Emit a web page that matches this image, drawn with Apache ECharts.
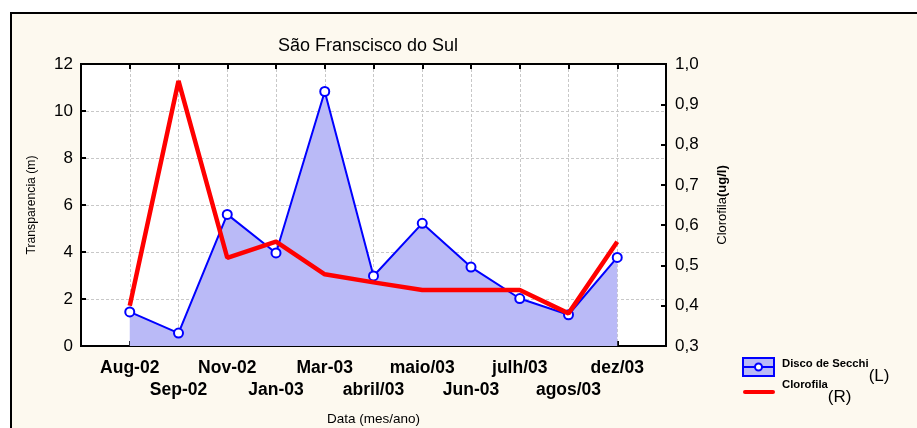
<!DOCTYPE html>
<html lang='pt'>
  <head>
    <meta charset='utf-8'>
    <title>São Franscisco do Sul</title>
    <style>
      html, body { margin: 0; padding: 0; background: #fff; }
      #main { width: 917px; height: 428px; }
    </style>
  </head>
  <body>
    <div id="main"></div>
    <script src="https://cdn.jsdelivr.net/npm/echarts@6/dist/echarts.min.js"></script>
    <script>
      // meses (posicao 1..11 no eixo x)
      var meses = ['Aug-02', 'Sep-02', 'Nov-02', 'Jan-03', 'Mar-03', 'abril/03',
                   'maio/03', 'Jun-03', 'julh/03', 'agos/03', 'dez/03'];
      // Disco de Secchi, transparencia (m) - eixo esquerdo
      var secchi = [1.45, 0.55, 5.6, 3.96, 10.83, 2.98, 5.22, 3.36, 2.02, 1.33, 3.77];
      // Clorofila (ug/l) - eixo direito
      var clorofila = [0.40, 0.958, 0.519, 0.559, 0.478, 0.458, 0.439, 0.439, 0.439, 0.381, 0.559];

      var fonte = '"Liberation Sans", Arial, sans-serif';
      var myChart = echarts.init(document.getElementById('main'));

      function pares(arr) {
        return arr.map(function(v, i) { return [i + 1, v]; });
      }

      // texto da legenda: nome pequeno em negrito + (L)/(R) maior, mais abaixo
      var richLegenda = {
        a: { fontFamily: fonte, fontSize: 11.3, fontWeight: 'bold', fill: '#000', lineHeight: 12, verticalAlign: 'top' },
        b: { fontFamily: fonte, fontSize: 17, fill: '#000', lineHeight: 18, verticalAlign: 'top', padding: [10, 0, 0, 0] }
      };

      var option = {
        backgroundColor: '#fff',
        animation: false,
        textStyle: { fontFamily: fonte },
        title: {
          text: 'São Franscisco do Sul',
          left: 273,
          top: 32,
          textStyle: { fontFamily: fonte, fontSize: 18, fontWeight: 'normal', color: '#000' }
        },
        graphic: [
          // moldura creme
          {
            type: 'rect', z: -10, silent: true,
            shape: { x: 11, y: 13, width: 930, height: 440 },
            style: { fill: '#fdf9ef', stroke: '#000', lineWidth: 2 }
          },
          // legenda - Disco de Secchi
          {
            type: 'rect',
            shape: { x: 743, y: 358, width: 31, height: 18 },
            style: { fill: '#babaf7', stroke: '#0000ff', lineWidth: 2 }
          },
          {
            type: 'line',
            shape: { x1: 743, y1: 367, x2: 774, y2: 367 },
            style: { stroke: '#0000ff', lineWidth: 2 }
          },
          {
            type: 'circle',
            shape: { cx: 758.5, cy: 367, r: 3.5 },
            style: { fill: '#fff', stroke: '#0000ff', lineWidth: 2 }
          },
          {
            type: 'text', x: 782, y: 358,
            style: { text: '{a|Disco de Secchi}{b|(L)}', rich: richLegenda }
          },
          // legenda - Clorofila
          {
            type: 'line',
            shape: { x1: 745, y1: 392, x2: 773, y2: 392 },
            style: { stroke: '#ff0000', lineWidth: 4, lineCap: 'round' }
          },
          {
            type: 'text', x: 782, y: 379,
            style: { text: '{a|Clorofila}{b|(R)}', rich: richLegenda }
          }
        ],
        grid: {
          left: 81, top: 64, right: 251, bottom: 82,
          outerBoundsMode: 'none',
          show: true, backgroundColor: '#fff', borderColor: '#000', borderWidth: 2
        },
        xAxis: [
          {
            type: 'value', min: 0, max: 12, interval: 1,
            position: 'bottom',
            name: 'Data (mes/ano)',
            nameLocation: 'middle',
            nameGap: 66,
            nameTextStyle: { fontFamily: fonte, fontSize: 13.5, color: '#000' },
            axisLine: { onZero: false, lineStyle: { color: '#000', width: 2 } },
            axisTick: { inside: true, length: 5, lineStyle: { color: '#000', width: 2 } },
            axisLabel: {
              margin: 11,
              fontFamily: fonte, fontSize: 17.5, fontWeight: 'bold', color: '#000',
              lineHeight: 22,
              formatter: function(v) {
                if (v < 1 || v > 11) return '';
                var t = meses[v - 1];
                return (v % 2 === 0) ? '\n' + t : t;
              }
            },
            splitLine: { show: true, lineStyle: { color: '#c8c8c8', type: [3, 2] } }
          },
          {
            type: 'value', min: 0, max: 12, interval: 1,
            position: 'top',
            axisLine: { onZero: false, lineStyle: { color: '#000', width: 2 } },
            axisTick: { inside: true, length: 5, lineStyle: { color: '#000', width: 2 } },
            axisLabel: { show: false },
            splitLine: { show: false }
          }
        ],
        yAxis: [
          {
            type: 'value', min: 0, max: 12, interval: 2,
            position: 'left',
            name: 'Transparencia (m)',
            nameLocation: 'middle',
            nameGap: 43,
            nameTextStyle: { fontFamily: fonte, fontSize: 12.2, color: '#000' },
            axisLine: { show: true, onZero: false, lineStyle: { color: '#000', width: 2 } },
            axisTick: { show: true, inside: true, length: 5, lineStyle: { color: '#000', width: 2 } },
            axisLabel: { margin: 8, fontFamily: fonte, fontSize: 17, color: '#000' },
            splitLine: { show: true, lineStyle: { color: '#c8c8c8', type: [3, 2] } }
          },
          {
            type: 'value', min: 0.3, max: 1.0, interval: 0.1,
            position: 'right',
            name: '{n|Clorofila}{b|(ug/l)}',
            nameLocation: 'middle',
            nameGap: 50,
            nameRotate: 90,
            nameTextStyle: {
              rich: {
                n: { fontFamily: fonte, fontSize: 13, color: '#000' },
                b: { fontFamily: fonte, fontSize: 13, fontWeight: 'bold', color: '#000' }
              }
            },
            axisLine: { show: true, onZero: false, lineStyle: { color: '#000', width: 2 } },
            axisTick: { show: true, inside: true, length: 5, lineStyle: { color: '#000', width: 2 } },
            axisLabel: {
              margin: 9, fontFamily: fonte, fontSize: 17, color: '#000',
              formatter: function(v) { return v.toFixed(1).replace('.', ','); }
            },
            splitLine: { show: false }
          }
        ],
        series: [
          {
            name: 'Disco de Secchi',
            type: 'line',
            xAxisIndex: 0, yAxisIndex: 0,
            data: pares(secchi),
            symbol: 'emptyCircle',
            symbolSize: 9,
            lineStyle: { color: '#0000ff', width: 2 },
            itemStyle: { color: '#0000ff', borderWidth: 2 },
            areaStyle: { color: '#babaf7', opacity: 1 },
            z: 2
          },
          {
            name: 'Clorofila',
            type: 'line',
            xAxisIndex: 0, yAxisIndex: 1,
            data: pares(clorofila),
            symbol: 'none',
            lineStyle: { color: '#ff0000', width: 4.5 },
            itemStyle: { color: '#ff0000' },
            z: 3
          }
        ]
      };
      myChart.setOption(option);
    </script>
  </body>
</html>
